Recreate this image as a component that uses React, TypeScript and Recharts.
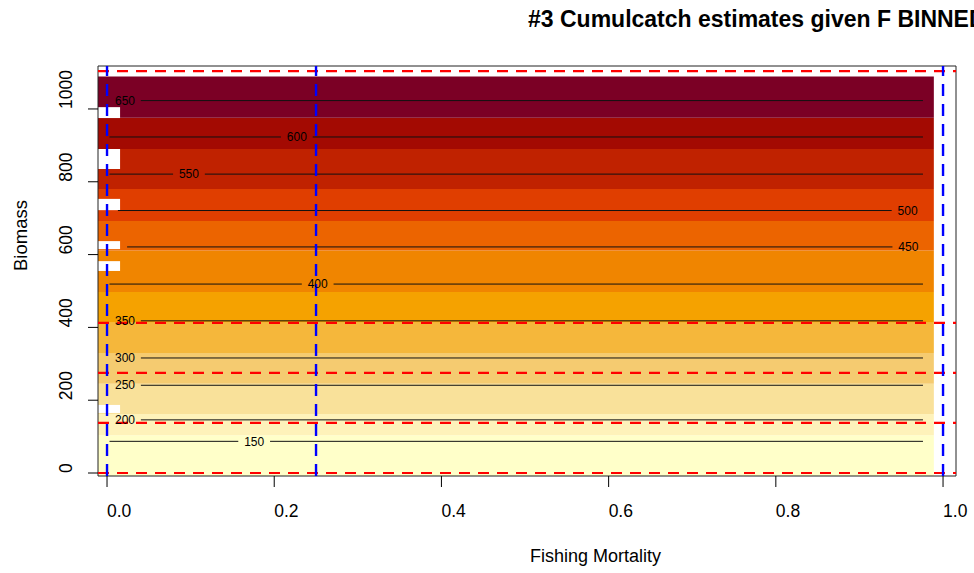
import {
  ComposedChart,
  Label,
  ReferenceArea,
  ReferenceLine,
  Scatter,
  XAxis,
  YAxis,
} from 'recharts';

const FONT = '"Liberation Sans", Arial, sans-serif';

// axes
const fTicks = [0, 0.2, 0.4, 0.6, 0.8, 1.0];
const biomassTicks = [0, 200, 400, 600, 800, 1000];
const fDomain = [-0.0108, 1.0155];
const biomassDomain = [-8.2, 1118];

// image bands: biomass breaks (bottom -> top) and the fill of each band
const bandBreaks = [-8.2, 104, 162, 245, 330, 413, 497, 611, 692, 780, 890, 976, 1089];
const bandColors = [
  '#FFFFC9', '#FEF2BA', '#F9E19A', '#F5CB70', '#F5B73B', '#F5A200',
  '#F08500', '#EC6400', '#E03E00', '#C02200', '#A30A02', '#7B0025',
];
const imageF = [-0.0108, 0.989];

// NA cells in the first column
const naLow = [165, 555, 615, 722, 835, 975];
const naHigh = [187, 582, 637, 753, 890, 1005];
const naF = [-0.0108, 0.0156];

// contour lines
const contourLevels = [150, 200, 250, 300, 350, 400, 450, 500, 550, 600, 650];
const contourBiomass = [87, 146, 241, 316, 418, 519, 621, 721, 821, 923, 1023];
const contourLabelF = [0.176, 0.0215, 0.0215, 0.0215, 0.0215, 0.252, 0.9585, 0.9576, 0.098, 0.227, 0.0215];
const contourStartF = [0.003, 0.003, 0.003, 0.003, 0.003, 0.003, 0.024, 0.013, 0.003, 0.003, 0.003];
const contourEndF = 0.976;
const labelGap = 0.019;

// bin limits
const biomassBins = [0, 137.5, 275, 412.5, 1104];
const fBins = [0, 0.25, 1.0];

const labelPoints = contourLevels.map((level, i) => ({
  f: contourLabelF[i],
  b: contourBiomass[i],
  level,
}));

const contourSegments = contourLevels.flatMap((level, i) => {
  const segs: { key: string; from: number; to: number; b: number }[] = [];
  const y = contourBiomass[i];
  const left = contourLabelF[i] - labelGap;
  const right = contourLabelF[i] + labelGap;
  if (left > contourStartF[i]) segs.push({ key: `${level}a`, from: contourStartF[i], to: left, b: y });
  if (contourEndF > right) segs.push({ key: `${level}b`, from: right, to: contourEndF, b: y });
  return segs;
});

const renderFTick = (props: any) => {
  const { x, payload } = props;
  return (
    <text x={x} y={517} fontSize={17.5} fontFamily={FONT} fill="#000" textAnchor="start">
      {Number(payload.value).toFixed(1)}
    </text>
  );
};

const renderBTick = (props: any) => {
  const { y, payload } = props;
  return (
    <text
      x={72}
      y={y}
      transform={`rotate(-90, 72, ${y})`}
      fontSize={17.5}
      fontFamily={FONT}
      fill="#000"
      textAnchor="start"
    >
      {payload.value}
    </text>
  );
};

const renderContourLabel = (props: any) => {
  const { cx, cy, payload } = props;
  return (
    <text x={cx} y={cy} dy={4.2} fontSize={12} fontFamily={FONT} fill="#000" textAnchor="middle">
      {payload.level}
    </text>
  );
};

const renderXLabel = (props: any) => {
  const { viewBox } = props;
  return (
    <text
      x={viewBox.x + viewBox.width / 2 + 3}
      y={562}
      fontSize={18}
      fontFamily={FONT}
      fill="#000"
      textAnchor="start"
    >
      Fishing Mortality
    </text>
  );
};

const renderYLabel = (props: any) => {
  const { viewBox } = props;
  const cy = viewBox.y + viewBox.height / 2;
  return (
    <text
      x={27}
      y={cy}
      transform={`rotate(-90, 27, ${cy})`}
      fontSize={18.5}
      fontFamily={FONT}
      fill="#000"
      textAnchor="start"
    >
      Biomass
    </text>
  );
};

export default function App() {
  return (
    <div
      style={{
        position: 'fixed',
        left: 0,
        top: 0,
        width: 974,
        height: 573,
        overflow: 'hidden',
        background: '#fff',
      }}
    >
      <div
        style={{
          position: 'absolute',
          left: 528,
          top: 8,
          whiteSpace: 'nowrap',
          fontFamily: FONT,
          fontWeight: 'bold',
          fontSize: 23,
          lineHeight: '23px',
          color: '#000',
        }}
      >
        #3 Cumulcatch estimates given F BINNED
      </div>
      <ComposedChart width={974} height={573} margin={{ top: 66, right: 18, bottom: 0, left: 0 }}>
        <XAxis
          type="number"
          dataKey="f"
          domain={fDomain}
          ticks={fTicks}
          allowDataOverflow
          axisLine={false}
          tickLine={{ stroke: '#000' }}
          tickSize={11}
          height={97}
          tick={renderFTick}
        >
          <Label content={renderXLabel} />
        </XAxis>
        <YAxis
          type="number"
          dataKey="b"
          domain={biomassDomain}
          ticks={biomassTicks}
          allowDataOverflow
          axisLine={false}
          tickLine={{ stroke: '#000' }}
          tickSize={10}
          width={98}
          tick={renderBTick}
        >
          <Label content={renderYLabel} />
        </YAxis>

        {bandColors.map((color, i) => (
          <ReferenceArea
            key={`band${i}`}
            x1={imageF[0]}
            x2={imageF[1]}
            y1={bandBreaks[i]}
            y2={bandBreaks[i + 1]}
            fill={color}
            fillOpacity={1}
            stroke="none"
            ifOverflow="visible"
          />
        ))}
        {naLow.map((lo, i) => (
          <ReferenceArea
            key={`na${i}`}
            x1={naF[0]}
            x2={naF[1]}
            y1={lo}
            y2={naHigh[i]}
            fill="#fff"
            fillOpacity={1}
            stroke="none"
            ifOverflow="visible"
          />
        ))}

        {contourSegments.map((s) => (
          <ReferenceLine
            key={s.key}
            segment={[
              { x: s.from, y: s.b },
              { x: s.to, y: s.b },
            ]}
            stroke="#111"
            strokeWidth={1}
          />
        ))}
        <Scatter data={labelPoints} dataKey="b" shape={renderContourLabel} isAnimationActive={false} />

        {biomassBins.map((b) => (
          <ReferenceLine key={`rb${b}`} y={b} stroke="#FF0000" strokeWidth={2.2} strokeDasharray="11 8" />
        ))}
        {fBins.map((f) => (
          <ReferenceLine key={`bf${f}`} x={f} stroke="#0000FF" strokeWidth={2.4} strokeDasharray="12 8" />
        ))}

        <ReferenceArea
          x1={fDomain[0]}
          x2={fDomain[1]}
          y1={biomassDomain[0]}
          y2={biomassDomain[1]}
          fill="none"
          stroke="#222"
          strokeWidth={1}
          ifOverflow="visible"
        />
      </ComposedChart>
    </div>
  );
}
